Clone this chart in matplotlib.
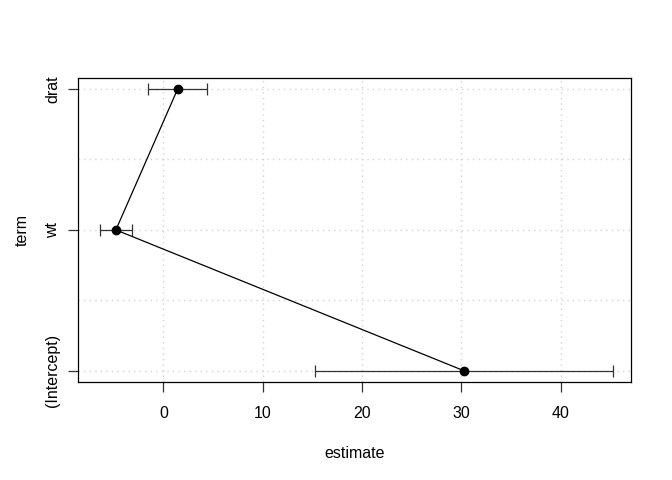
import matplotlib
matplotlib.use("Agg")
import matplotlib.pyplot as plt

terms = ["(Intercept)", "wt", "drat"]
estimate = [30.29, -4.78, 1.44]
conf_low = [15.32, -6.41, -1.54]
conf_high = [45.26, -3.15, 4.42]

plt.rcParams["font.family"] = ["Liberation Sans", "DejaVu Sans"]
plt.rcParams["font.size"] = 11.5

fig = plt.figure(figsize=(6.72, 4.8), dpi=100)
ax = fig.add_axes([0.116, 0.204, 0.823, 0.634])

ypos = list(range(1, len(terms) + 1))

ax.set_xlim(-8.6, 47.1)
ax.set_ylim(0.92, 3.08)

# grid like R's grid(): dotted light grey
for gx in [0, 10, 20, 30, 40]:
    ax.axvline(gx, color="#d3d3d3", linestyle=(0, (1, 3)), linewidth=1, zorder=0)
for gy in [1, 1.5, 2, 2.5, 3]:
    ax.axhline(gy, color="#d3d3d3", linestyle=(0, (1, 3)), linewidth=1, zorder=0)

xerr = [[e - lo for e, lo in zip(estimate, conf_low)],
        [hi - e for e, hi in zip(estimate, conf_high)]]
ax.errorbar(estimate, ypos, xerr=xerr, fmt="none", ecolor="#333333",
            elinewidth=0.9, capsize=4, capthick=0.9, zorder=2)
ax.plot(estimate, ypos, color="black", linewidth=0.9, zorder=3)
ax.plot(estimate, ypos, "o", color="black", markersize=6, zorder=4)

ax.set_xticks([0, 10, 20, 30, 40])
ax.set_yticks(ypos)
ax.set_yticklabels(terms, rotation=90, va="center")
ax.tick_params(axis="both", length=7, width=0.9, color="#333333", pad=10)
ax.tick_params(axis="y", pad=6)

for s in ax.spines.values():
    s.set_linewidth(0.9)

ax.set_xlabel("estimate", labelpad=18)
ax.set_ylabel("term", labelpad=11)

fig.savefig("out.png", dpi=100)
